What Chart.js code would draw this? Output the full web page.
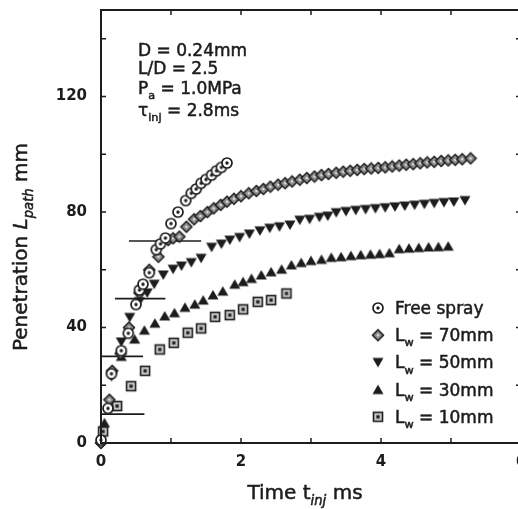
<!DOCTYPE html>
<html>
<head>
<meta charset="utf-8">
<script src="https://cdn.jsdelivr.net/npm/chart.js@4.4.0/dist/chart.umd.min.js"></script>
<style>
  html, body { margin: 0; padding: 0; background: #fff; overflow: hidden; }
</style>
</head>
<body>
<canvas id="myChart" width="530" height="509" style="width:530px;height:509px"></canvas>
<script>
// values: time (ms) and penetration (mm)
const freeSprayT = [0, 0.10, 0.15, 0.29, 0.39, 0.50, 0.55, 0.60, 0.69, 0.79, 0.85, 0.92, 1.00, 1.10, 1.21, 1.29, 1.36, 1.43, 1.50, 1.58, 1.65, 1.72, 1.80];
const freeSprayV = [1, 12, 24, 32, 38, 48, 53, 55, 59, 67, 69, 71, 76, 80, 84, 86.5, 88, 90, 91.3, 92.8, 94.3, 95.5, 97];

const lw70T = [0, 0.12, 0.16, 0.28, 0.40, 0.55, 0.69, 0.82, 0.96, 1.03, 1.12, 1.22, 1.33, 1.42, 1.52, 1.61, 1.71, 1.80, 1.90, 2.00, 2.11, 2.22, 2.32, 2.42, 2.53, 2.63, 2.73, 2.84, 2.94, 3.05, 3.15, 3.25, 3.36, 3.46, 3.56, 3.66, 3.76, 3.86, 3.96, 4.06, 4.16, 4.26, 4.36, 4.46, 4.56, 4.66, 4.76, 4.86, 4.96, 5.06, 5.16, 5.28];
const lw70V = [0, 15, 25, 31, 40, 52, 60, 64.5, 70.3, 70.9, 71.5, 74.9, 77.5, 78.6, 80, 81.3, 82.5, 83.6, 84.6, 85.5, 86.5, 87.3, 88, 88.8, 89.5, 90, 90.6, 91.2, 91.8, 92.3, 92.8, 93.2, 93.6, 94.0, 94.3, 94.6, 94.9, 95.1, 95.3, 95.5, 95.8, 96.1, 96.4, 96.6, 96.9, 97.2, 97.4, 97.7, 97.9, 98.1, 98.3, 98.6];

const lw50T = [0.15, 0.29, 0.41, 0.55, 0.66, 0.76, 0.89, 1.03, 1.15, 1.29, 1.43, 1.58, 1.72, 1.84, 1.98, 2.12, 2.27, 2.41, 2.55, 2.70, 2.84, 2.98, 3.12, 3.24, 3.36, 3.50, 3.64, 3.78, 3.92, 4.06, 4.20, 4.34, 4.48, 4.62, 4.76, 4.90, 5.04, 5.20];
const lw50V = [23, 35, 43.5, 49, 52, 55, 58.2, 60.2, 61.3, 62.5, 64.0, 67.8, 68.9, 70.3, 71.2, 72.4, 73.5, 74.4, 74.9, 75.5, 77.2, 77.5, 78.2, 78.6, 79.8, 80.2, 80.6, 80.9, 81.2, 81.5, 81.8, 82.1, 82.4, 82.7, 83.0, 83.3, 83.5, 84.0];

const lw30T = [0.05, 0.29, 0.48, 0.62, 0.77, 0.91, 1.05, 1.20, 1.34, 1.46, 1.60, 1.74, 1.91, 2.03, 2.15, 2.29, 2.43, 2.58, 2.72, 2.86, 3.00, 3.15, 3.29, 3.43, 3.57, 3.71, 3.85, 3.98, 4.12, 4.26, 4.40, 4.54, 4.68, 4.82, 4.96];
const lw30V = [7, 30, 36, 39.1, 41.5, 44, 45.1, 47, 48.1, 49.5, 51.3, 52.6, 55, 55.9, 57, 58.2, 59.3, 60.2, 61.7, 62.5, 63.2, 63.6, 64.3, 64.5, 64.9, 65.2, 65.4, 65.6, 65.9, 67.3, 67.5, 67.7, 67.9, 68.0, 68.2];

const lw10T = [0.03, 0.23, 0.43, 0.63, 0.84, 1.04, 1.24, 1.43, 1.63, 1.84, 2.03, 2.24, 2.43, 2.65];
const lw10V = [4, 12.8, 19.7, 25, 32.4, 34.7, 38.2, 39.7, 43.7, 44.3, 46.3, 48.9, 49.5, 51.8];

// wall positions drawn as short horizontal bars
const wallLevels = [70, 50, 30, 10];
const wallStart = [0.40, 0.20, 0, 0];
const wallEnd = [1.43, 0.92, 0.60, 0.62];

const xTickLabels = [0, 2, 4, 6];
const yTickLabels = [0, 40, 80, 120];
const xMinorTicks = [0, 1, 2, 3, 4, 5, 6];
const yMinorTicks = [0, 20, 40, 60, 80, 100, 120, 140];

const FONT = '"DejaVu Sans", sans-serif';
const INK = '#1c1c1c';

function makeMarker(size, draw) {
  const c = document.createElement('canvas');
  c.width = size;
  c.height = size;
  draw(c.getContext('2d'), size / 2);
  return c;
}

const circleDot = makeMarker(14, (g, m) => {
  g.beginPath(); g.arc(m, m, 5, 0, Math.PI * 2);
  g.fillStyle = '#fff'; g.fill();
  g.lineWidth = 1.7; g.strokeStyle = INK; g.stroke();
  g.beginPath(); g.arc(m, m, 1.7, 0, Math.PI * 2);
  g.fillStyle = INK; g.fill();
});
const diamond = makeMarker(14, (g, m) => {
  g.beginPath();
  g.moveTo(m, m - 5.5); g.lineTo(m + 5.5, m); g.lineTo(m, m + 5.5); g.lineTo(m - 5.5, m);
  g.closePath();
  g.fillStyle = '#8a8a8a'; g.fill();
  g.lineWidth = 1.5; g.strokeStyle = INK; g.stroke();
  g.fillStyle = '#ddd'; g.fillRect(m - 1.2, m - 1.2, 2.4, 2.4);
});
const triDown = makeMarker(14, (g, m) => {
  g.beginPath();
  g.moveTo(m - 5.5, m - 4.5); g.lineTo(m + 5.5, m - 4.5); g.lineTo(m, m + 5);
  g.closePath(); g.fillStyle = INK; g.fill();
});
const triUp = makeMarker(14, (g, m) => {
  g.beginPath();
  g.moveTo(m - 5.5, m + 4.5); g.lineTo(m + 5.5, m + 4.5); g.lineTo(m, m - 5);
  g.closePath(); g.fillStyle = INK; g.fill();
});
const squareDot = makeMarker(14, (g, m) => {
  g.fillStyle = '#c8c8c8'; g.fillRect(m - 4.5, m - 4.5, 9, 9);
  g.lineWidth = 1.6; g.strokeStyle = INK; g.strokeRect(m - 4.5, m - 4.5, 9, 9);
  g.fillStyle = INK; g.fillRect(m - 1.6, m - 1.6, 3.2, 3.2);
});

const toPoints = (ts, vs) => ts.map((t, i) => ({ x: t, y: vs[i] }));

const series = [
  { label: 'Free spray', t: freeSprayT, v: freeSprayV, marker: circleDot },
  { label: 'Lw = 70mm', t: lw70T, v: lw70V, marker: diamond },
  { label: 'Lw = 50mm', t: lw50T, v: lw50V, marker: triDown },
  { label: 'Lw = 30mm', t: lw30T, v: lw30V, marker: triUp },
  { label: 'Lw = 10mm', t: lw10T, v: lw10V, marker: squareDot },
];

const datasets = series.map((s) => ({
  label: s.label,
  data: toPoints(s.t, s.v),
  pointStyle: s.marker,
  pointRadius: 5,
  showLine: false,
  clip: false,
  order: 0,
}));
wallLevels.forEach((lvl, i) => {
  datasets.push({
    type: 'line',
    label: 'wall ' + lvl,
    data: [{ x: wallStart[i], y: lvl }, { x: wallEnd[i], y: lvl }],
    borderColor: INK,
    borderWidth: 1.6,
    pointRadius: 0,
    clip: false,
    order: 1,
  });
});

// text with subscripts: parts = [[text, 'sub'|'it'|'itsub'|''], ...]
function setFont(ctx, kind, size) {
  const sub = kind.includes('sub');
  const it = kind.includes('it');
  ctx.font = (it ? 'italic ' : '') + (sub ? size * 0.66 : size) + 'px ' + FONT;
  return sub;
}
function richWidth(ctx, parts, size) {
  let w = 0;
  parts.forEach(([txt, kind]) => {
    setFont(ctx, kind, size);
    w += ctx.measureText(txt).width;
  });
  return w;
}
function drawRich(ctx, parts, x, y, size) {
  let cx = x;
  parts.forEach(([txt, kind]) => {
    const sub = setFont(ctx, kind, size);
    const ty = y + (sub ? size * 0.3 : 0);
    ctx.fillText(txt, cx, ty);
    ctx.strokeText(txt, cx, ty);
    cx += ctx.measureText(txt).width;
  });
}

const legendParts = [
  [['Free spray', '']],
  [['L', ''], ['w', 'sub'], [' = 70mm', '']],
  [['L', ''], ['w', 'sub'], [' = 50mm', '']],
  [['L', ''], ['w', 'sub'], [' = 30mm', '']],
  [['L', ''], ['w', 'sub'], [' = 10mm', '']],
];
const noteParts = [
  [['D = 0.24mm', '']],
  [['L/D = 2.5', '']],
  [['P', ''], ['a', 'sub'], [' = 1.0MPa', '']],
  [['\u03C4', ''], ['inj', 'sub'], [' = 2.8ms', '']],
];

const decorations = {
  id: 'decorations',
  afterDraw(chart) {
    const { ctx, chartArea: a, scales: { x, y } } = chart;
    ctx.save();
    ctx.strokeStyle = INK;
    ctx.fillStyle = INK;
    ctx.lineWidth = 2;
    ctx.strokeRect(a.left, a.top, a.right - a.left, a.bottom - a.top);

    // inward ticks on all four sides
    ctx.lineWidth = 1.5;
    ctx.beginPath();
    xMinorTicks.forEach((t) => {
      const px = x.getPixelForValue(t);
      ctx.moveTo(px, a.bottom); ctx.lineTo(px, a.bottom - 5);
      ctx.moveTo(px, a.top); ctx.lineTo(px, a.top + 5);
    });
    yMinorTicks.forEach((v) => {
      const py = y.getPixelForValue(v);
      ctx.moveTo(a.left, py); ctx.lineTo(a.left + 5, py);
      ctx.moveTo(a.right, py); ctx.lineTo(a.right - 5, py);
    });
    ctx.stroke();

    ctx.textBaseline = 'alphabetic';
    ctx.textAlign = 'left';
    ctx.lineWidth = 0.5;

    // parameter note
    const noteBase = [56, 74, 94, 116];
    noteParts.forEach((parts, i) => drawRich(ctx, parts, 138, noteBase[i], 17));

    // legend
    legendParts.forEach((parts, i) => {
      const base = 314 + i * 27.2;
      const m = series[i].marker;
      ctx.drawImage(m, 378 - m.width / 2, base - 6 - m.height / 2);
      drawRich(ctx, parts, 395, base, 17);
    });

    // axis titles
    const xt = [['Time t', ''], ['inj', 'itsub'], [' ms', '']];
    const xw = richWidth(ctx, xt, 20);
    drawRich(ctx, xt, 305 - xw / 2, 499, 20);

    const yt = [['Penetration ', ''], ['L', 'it'], ['path', 'itsub'], [' mm', '']];
    const yw = richWidth(ctx, yt, 20);
    ctx.translate(27, 247);
    ctx.rotate(-Math.PI / 2);
    drawRich(ctx, yt, -yw / 2, 0, 20);
    ctx.restore();
  },
};

// keep the plot box fixed: no extra room for tick labels
function noScalePadding(scale) {
  scale.paddingTop = 0;
  scale.paddingBottom = 0;
  scale.paddingLeft = 0;
  scale.paddingRight = 0;
}

new Chart(document.getElementById('myChart').getContext('2d'), {
  type: 'scatter',
  data: { datasets },
  options: {
    responsive: false,
    animation: false,
    layout: { padding: { left: 0, right: 9, top: 10, bottom: 0 } },
    plugins: { legend: { display: false }, tooltip: { enabled: false } },
    scales: {
      x: {
        type: 'linear', min: 0, max: 6,
        grid: { display: false, drawTicks: false },
        border: { display: false },
        ticks: { color: INK, padding: 10, maxRotation: 0, font: { family: 'DejaVu Sans', size: 15, weight: 'bold' } },
        afterBuildTicks: (scale) => { scale.ticks = xTickLabels.map((v) => ({ value: v })); },
        afterFit: (scale) => { scale.height = 66; noScalePadding(scale); },
      },
      y: {
        type: 'linear', min: 0, max: 150,
        grid: { display: false, drawTicks: false },
        border: { display: false },
        ticks: { color: INK, padding: 14, font: { family: 'DejaVu Sans', size: 15, weight: 'bold' } },
        afterBuildTicks: (scale) => { scale.ticks = yTickLabels.map((v) => ({ value: v })); },
        afterFit: (scale) => { scale.width = 101; noScalePadding(scale); },
      },
    },
  },
  plugins: [decorations],
});
</script>
</body>
</html>
